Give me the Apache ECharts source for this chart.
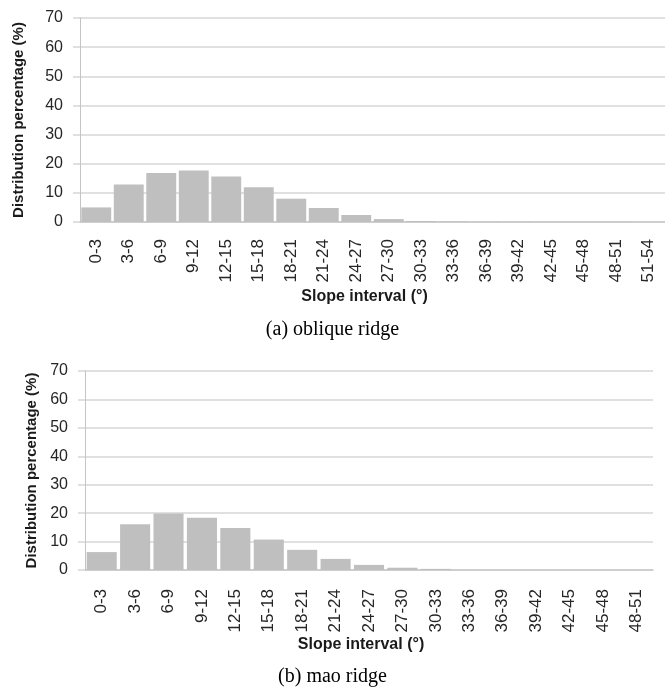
<!DOCTYPE html>
<html>
<head>
<meta charset="utf-8">
<script src="https://cdn.jsdelivr.net/npm/echarts@6/dist/echarts.min.js"></script>
<style>
html,body{margin:0;padding:0;background:#fff;}
#chart{width:665px;height:691px;}
</style>
</head>
<body>
<div id="chart"></div>
<script>
// ---- Data ----
var categoriesA = ['0-3','3-6','6-9','9-12','12-15','15-18','18-21','21-24','24-27','27-30','30-33','33-36','36-39','39-42','42-45','45-48','48-51','51-54'];
var valuesA = [5.0, 12.9, 16.8, 17.7, 15.6, 11.9, 8.0, 4.8, 2.4, 1.0, 0.35, 0.15, 0.12, 0.12, 0.12, 0.12, 0.12, 0];
var categoriesB = ['0-3','3-6','6-9','9-12','12-15','15-18','18-21','21-24','24-27','27-30','30-33','33-36','36-39','39-42','42-45','45-48','48-51'];
var valuesB = [6.3, 16.1, 19.9, 18.4, 14.8, 10.7, 7.1, 3.9, 1.8, 0.8, 0.4, 0, 0, 0, 0, 0, 0];
var yTicks = [0, 10, 20, 30, 40, 50, 60, 70];
var yAxisName = 'Distribution percentage (%)';
var xAxisName = 'Slope interval (°)';
var captionA = '(a) oblique ridge';
var captionB = '(b) mao ridge';

var sans = 'Liberation Sans, Arial, sans-serif';
var gridColor = '#d6d6d6';

function yAxisCfg(gridIndex, nameGap) {
  return {
    type: 'value', gridIndex: gridIndex,
    min: yTicks[0], max: yTicks[yTicks.length - 1], interval: yTicks[1] - yTicks[0],
    name: yAxisName, nameLocation: 'middle', nameGap: nameGap, nameRotate: 90,
    nameTextStyle: { fontFamily: sans, fontSize: 15, fontWeight: 'bold', color: '#1a1a1a' },
    axisLine: { show: true, lineStyle: { color: '#c4c4c4', width: 1 } },
    axisTick: { show: true, length: 7, lineStyle: { color: gridColor, width: 1.5 } },
    axisLabel: { fontFamily: sans, fontSize: 16, color: '#262626', margin: 17 },
    splitLine: { show: true, lineStyle: { color: gridColor, width: 1.5 } }
  };
}
function xAxisCfg(gridIndex, cats, nameGap, margin) {
  return {
    type: 'category', gridIndex: gridIndex, data: cats,
    name: xAxisName, nameLocation: 'middle', nameGap: nameGap,
    nameTextStyle: { fontFamily: sans, fontSize: 16, fontWeight: 'bold', color: '#1a1a1a', padding: [0, 16, 0, 0] },
    axisLine: { show: true, lineStyle: { color: '#c8c8c8', width: 1.5 } },
    axisTick: { show: false },
    axisLabel: { fontFamily: sans, fontSize: 17, color: '#262626', rotate: 90, margin: margin, interval: 0 }
  };
}

var chart = echarts.init(document.getElementById('chart'), null, { renderer: 'canvas' });
chart.setOption({
  animation: false,
  backgroundColor: '#fff',
  title: [
    { text: captionA, left: 'center', top: 320, padding: 0,
      textStyle: { fontFamily: 'Liberation Serif, Times New Roman, serif', fontSize: 20, fontWeight: 'normal', color: '#000' } },
    { text: captionB, left: 'center', top: 667, padding: 0,
      textStyle: { fontFamily: 'Liberation Serif, Times New Roman, serif', fontSize: 20, fontWeight: 'normal', color: '#000' } }
  ],
  grid: [
    { left: 80, top: 18, right: 0, height: 204, containLabel: false },
    { left: 85, top: 371, right: 12, height: 199, containLabel: false }
  ],
  xAxis: [ xAxisCfg(0, categoriesA, 67, 17), xAxisCfg(1, categoriesB, 66, 19) ],
  yAxis: [ yAxisCfg(0, 54), yAxisCfg(1, 46) ],
  series: [
    { type: 'bar', xAxisIndex: 0, yAxisIndex: 0, data: valuesA, barCategoryGap: '8%',
      itemStyle: { color: '#bfbfbf' } },
    { type: 'bar', xAxisIndex: 1, yAxisIndex: 1, data: valuesB, barCategoryGap: '10%',
      itemStyle: { color: '#bfbfbf' } }
  ]
});
</script>
</body>
</html>
